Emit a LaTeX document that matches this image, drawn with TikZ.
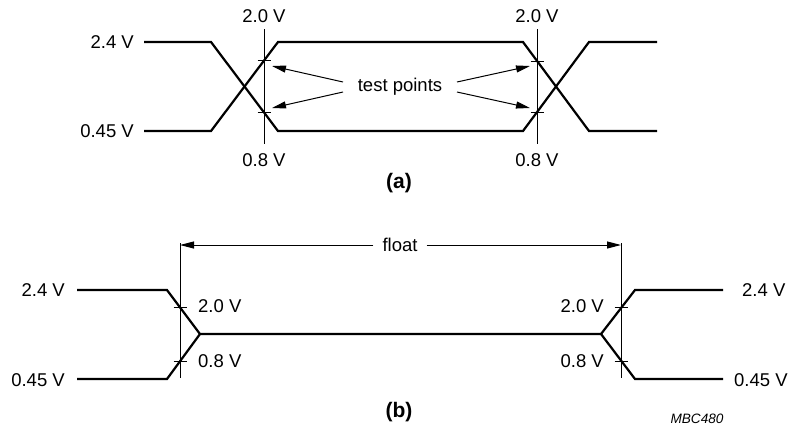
\documentclass[tikz,border=0pt]{standalone}
\usepackage{fontspec}
\setmainfont{Liberation Sans}
\usetikzlibrary{arrows.meta}
\begin{document}
\begin{tikzpicture}[x=1pt,y=-1pt,
  wave/.style={line width=2.2pt, line join=miter},
  thinline/.style={line width=1pt},
  tipline/.style={-{Triangle[length=14pt,width=7pt]}, line width=1pt},
  lbl/.style={font=\fontsize{18.5}{20}\selectfont, inner sep=0pt},
  captionlbl/.style={font=\fontsize{21}{23}\selectfont\bfseries, inner sep=0pt},
  codelbl/.style={font=\fontsize{13.6}{15}\selectfont\itshape, inner sep=0pt},
  tickline/.style={line width=0.8pt}]
\useasboundingbox (0,0) rectangle (792,432);

% ---------- (a) ----------
\coordinate (a1) at (144,42);  \coordinate (a2) at (211,42);
\coordinate (a3) at (278,131); \coordinate (a4) at (523,131);
\coordinate (a5) at (589,42);  \coordinate (a6) at (657,42);
\coordinate (b1) at (144,131); \coordinate (b2) at (211,131);
\coordinate (b3) at (278,42);  \coordinate (b4) at (523,42);
\coordinate (b5) at (589,131); \coordinate (b6) at (657,131);
\draw[wave] (a1) -- (a2) -- (a3) -- (a4) -- (a5) -- (a6);
\draw[wave] (b1) -- (b2) -- (b3) -- (b4) -- (b5) -- (b6);

\coordinate (vl1) at (264,29);  \coordinate (vl2) at (264,144);
\coordinate (vr1) at (537,29);  \coordinate (vr2) at (537,144);
\draw[thinline] (vl1) -- (vl2);
\draw[thinline] (vr1) -- (vr2);

\foreach \x/\y in {264/60.5,264/112.5,537/61,537/112}
  \draw[tickline] (\x-6.5,\y) -- (\x+6.5,\y);

\node[lbl,anchor=east] (la24) at (134,42) {2.4 V};
\node[lbl,anchor=east] (la045) at (134,131) {0.45 V};
\node[lbl] (la20l) at (264,16) {2.0 V};
\node[lbl] (la08l) at (264,160) {0.8 V};
\node[lbl] (la20r) at (537,16) {2.0 V};
\node[lbl] (la08r) at (537,160) {0.8 V};

\node[lbl] (tp) at (400,87) {test points};
\coordinate (t1) at (343,82);  \coordinate (t2) at (343,92);
\coordinate (t3) at (457,82);  \coordinate (t4) at (457,92);
\coordinate (p1) at (272,66);  \coordinate (p2) at (272,108);
\coordinate (p3) at (530,66);  \coordinate (p4) at (530,108);
\draw[tipline] (t1) -- (p1);
\draw[tipline] (t2) -- (p2);
\draw[tipline] (t3) -- (p3);
\draw[tipline] (t4) -- (p4);

\node[captionlbl] (capa) at (399,183) {(a)};

% ---------- (b) ----------
\coordinate (c1) at (77,290);  \coordinate (c2) at (167,290);
\coordinate (c3) at (200,334); \coordinate (c4) at (601,334);
\coordinate (c5) at (635,290); \coordinate (c6) at (723,290);
\coordinate (d1) at (77,379);  \coordinate (d2) at (167,379);
\coordinate (d5) at (635,379); \coordinate (d6) at (723,379);
\draw[wave] (c1) -- (c2) -- (c3) -- (c4) -- (c5) -- (c6);
\draw[wave] (d1) -- (d2) -- (c3);
\draw[wave] (c4) -- (d5) -- (d6);

\coordinate (fl1) at (180,243); \coordinate (fl2) at (180,378);
\coordinate (fr1) at (621,243); \coordinate (fr2) at (621,378);
\draw[thinline] (fl1) -- (fl2);
\draw[thinline] (fr1) -- (fr2);

\foreach \x/\y in {180/307.5,180/361,621/307.5,621/361}
  \draw[tickline] (\x-6.5,\y) -- (\x+6.5,\y);

\node[lbl,inner xsep=9pt] (fl) at (400,245) {float};
\coordinate (fa) at (180,245); \coordinate (fb) at (621,245);
\draw[tipline] (fl.west) -- (fa);
\draw[tipline] (fl.east) -- (fb);

\node[lbl,anchor=east] (lb24) at (65,290) {2.4 V};
\node[lbl,anchor=east] (lb045) at (65,380) {0.45 V};
\node[lbl,anchor=west] (lb20l) at (198,306) {2.0 V};
\node[lbl,anchor=west] (lb08l) at (198,361) {0.8 V};
\node[lbl,anchor=east] (lb20r) at (604,306) {2.0 V};
\node[lbl,anchor=east] (lb08r) at (604,361) {0.8 V};
\node[lbl,anchor=west] (rb24) at (742,290) {2.4 V};
\node[lbl,anchor=west] (rb045) at (734,380) {0.45 V};

\node[captionlbl] (capb) at (399,412) {(b)};
\node[codelbl] (mbc) at (697,419) {MBC480};
\end{tikzpicture}
\end{document}
